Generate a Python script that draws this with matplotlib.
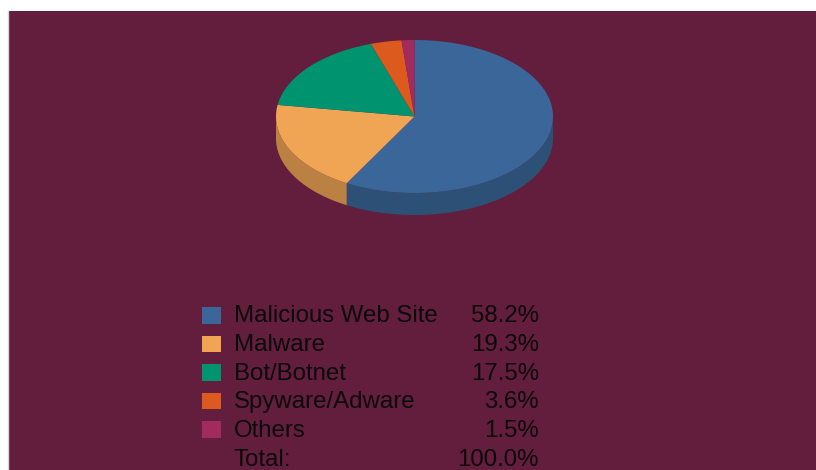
import numpy as np
import matplotlib.pyplot as plt
from matplotlib.patches import Polygon, Rectangle

plt.rcParams['font.family'] = ['Liberation Sans', 'DejaVu Sans']

labels = ['Malicious Web Site', 'Malware', 'Bot/Botnet', 'Spyware/Adware', 'Others']
shares = [58.2, 19.3, 17.5, 3.6, 1.5]
colors = ['#3A6699', '#F0A554', '#009370', '#DD5A1E', '#A12B5C']
total_share = 100.0

bg = '#631D3D'

fig = plt.figure(figsize=(8.16, 4.70), dpi=100)
fig.patch.set_facecolor('white')
ax = fig.add_axes([0, 0, 1, 1])
ax.set_xlim(0, 816)
ax.set_ylim(470, 0)
ax.axis('off')

ax.add_patch(Rectangle((8, 11), 808, 459, facecolor=bg, edgecolor='none'))
ax.plot([7.5, 7.5], [11, 470], color='#d8d8d8', lw=1)

# tilted pie geometry (pixels)
cx, cy, rx, ry, depth = 414.5, 116.5, 138.5, 76.5, 22


def arc(a0, a1, n=200):
    # angles in degrees, clockwise from 12 o'clock
    t = np.radians(np.linspace(a0, a1, n))
    return cx + rx * np.sin(t), cy - ry * np.cos(t)


def shade(c, f=0.78):
    r, g, b = [int(c[i:i + 2], 16) / 255 for i in (1, 3, 5)]
    return (r * f, g * f, b * f)


fracs = np.array(shares) / sum(shares)
edges = np.concatenate([[0], np.cumsum(fracs) * 360])

# side walls, only the front half of the rim shows
for i in range(len(shares)):
    a0, a1 = max(edges[i], 90), min(edges[i + 1], 270)
    if a1 <= a0:
        continue
    x, y = arc(a0, a1)
    pts = np.column_stack([np.concatenate([x, x[::-1]]),
                           np.concatenate([y, y[::-1] + depth])])
    ax.add_patch(Polygon(pts, closed=True, facecolor=shade(colors[i]),
                         edgecolor='none'))

# top faces
for i in range(len(shares)):
    x, y = arc(edges[i], edges[i + 1])
    pts = np.column_stack([np.concatenate([[cx], x]), np.concatenate([[cy], y])])
    ax.add_patch(Polygon(pts, closed=True, facecolor=colors[i],
                         edgecolor='none'))

# legend table
row0, step = 315, 28.6
fs = 17.3
for i, (lab, val) in enumerate(zip(labels, shares)):
    y = row0 + i * step
    ax.add_patch(Rectangle((202, y - 8), 19, 16.5, facecolor=colors[i],
                           edgecolor='none'))
    ax.text(234, y + 7.5, lab, fontsize=fs, color='#0a0a0a', va='baseline')
    ax.text(539, y + 7.5, f'{val:.1f}%', fontsize=fs, color='#0a0a0a',
            va='baseline', ha='right')

y = row0 + len(shares) * step
ax.text(234, y + 7.5, 'Total:', fontsize=fs, color='#0a0a0a', va='baseline')
ax.text(539, y + 7.5, f'{total_share:.1f}%', fontsize=fs, color='#0a0a0a',
        va='baseline', ha='right')

fig.savefig('out.png', dpi=100, facecolor=fig.get_facecolor())
